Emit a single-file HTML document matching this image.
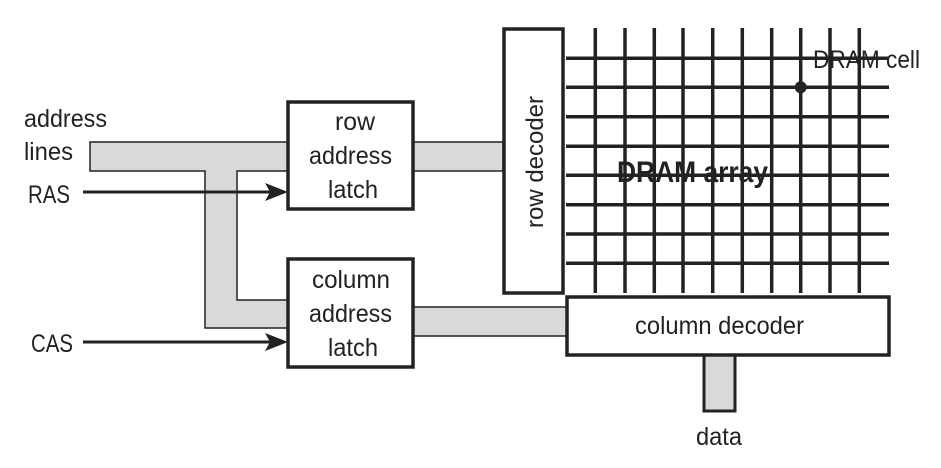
<!DOCTYPE html>
<html><head><meta charset="utf-8"><style>
html,body{margin:0;padding:0;background:#fff;}
svg{display:block;}
text{font-family:"Liberation Sans",sans-serif;fill:#222;font-size:25px;}
</style></head><body>
<svg width="941" height="468" viewBox="0 0 941 468" xmlns="http://www.w3.org/2000/svg">
<g fill="#d9d9d9" stroke="#222" stroke-width="1.5">
<path d="M288 142 L90 142 L90 171 L205 171 L205 328 L288 328 L288 300 L237 300 L237 171 L288 171 Z"/>
<rect x="413" y="142" width="90" height="29"/>
<rect x="413" y="307" width="154" height="29"/>
</g>
<rect x="704" y="355" width="31" height="56" fill="#d9d9d9" stroke="#222" stroke-width="3"/>
<g stroke="#222" stroke-width="3.5">
<line x1="595.3" y1="28" x2="595.3" y2="293"/>
<line x1="625" y1="28" x2="625" y2="293"/>
<line x1="654.3" y1="28" x2="654.3" y2="293"/>
<line x1="683" y1="28" x2="683" y2="293"/>
<line x1="712.7" y1="28" x2="712.7" y2="293"/>
<line x1="742.3" y1="28" x2="742.3" y2="293"/>
<line x1="771.7" y1="28" x2="771.7" y2="293"/>
<line x1="800.7" y1="28" x2="800.7" y2="293"/>
<line x1="830" y1="28" x2="830" y2="293"/>
<line x1="859.3" y1="28" x2="859.3" y2="293"/>
<line x1="566" y1="58.3" x2="889" y2="58.3"/>
<line x1="566" y1="87.3" x2="889" y2="87.3"/>
<line x1="566" y1="116.7" x2="889" y2="116.7"/>
<line x1="566" y1="146.3" x2="889" y2="146.3"/>
<line x1="566" y1="175.3" x2="889" y2="175.3"/>
<line x1="566" y1="204.7" x2="889" y2="204.7"/>
<line x1="566" y1="234" x2="889" y2="234"/>
<line x1="566" y1="263.3" x2="889" y2="263.3"/>
</g>
<circle cx="800.7" cy="87.3" r="6" fill="#222"/>
<g fill="#fff" stroke="#222" stroke-width="3.5">
<rect x="288" y="102" width="125" height="107"/>
<rect x="288" y="259" width="125" height="108"/>
<rect x="504" y="29" width="59" height="264"/>
<rect x="567" y="297" width="322" height="58"/>
</g>
<g stroke="#222" stroke-width="3">
<line x1="83" y1="192" x2="272" y2="192"/>
<line x1="83" y1="342" x2="272" y2="342"/>
</g>
<path d="M265 183 L288 192 L265 201 L270 192 Z" fill="#222"/>
<path d="M265 333 L288 342 L265 351 L270 342 Z" fill="#222"/>
<text x="24" y="127" textLength="83" lengthAdjust="spacingAndGlyphs">address</text>
<text x="24" y="160" textLength="49" lengthAdjust="spacingAndGlyphs">lines</text>
<text x="28" y="203" textLength="42" lengthAdjust="spacingAndGlyphs">RAS</text>
<text x="31" y="352" textLength="42" lengthAdjust="spacingAndGlyphs">CAS</text>
<text x="335" y="130" textLength="40" lengthAdjust="spacingAndGlyphs">row</text>
<text x="309" y="164" textLength="83" lengthAdjust="spacingAndGlyphs">address</text>
<text x="328" y="198" textLength="50" lengthAdjust="spacingAndGlyphs">latch</text>
<text x="312" y="288" textLength="78" lengthAdjust="spacingAndGlyphs">column</text>
<text x="309" y="322" textLength="83" lengthAdjust="spacingAndGlyphs">address</text>
<text x="328" y="356" textLength="50" lengthAdjust="spacingAndGlyphs">latch</text>
<text x="635" y="334" textLength="169" lengthAdjust="spacingAndGlyphs">column decoder</text>
<text x="696" y="445" textLength="46" lengthAdjust="spacingAndGlyphs">data</text>
<text x="813" y="68" textLength="107" lengthAdjust="spacingAndGlyphs">DRAM cell</text>
<text x="617" y="182" textLength="151" lengthAdjust="spacingAndGlyphs" style="font-weight:bold;font-size:30px">DRAM array</text>
<text transform="translate(543,228) rotate(-90)" x="0" y="0" textLength="132" lengthAdjust="spacingAndGlyphs" style="font-size:24px">row decoder</text>
</svg>
</body></html>
